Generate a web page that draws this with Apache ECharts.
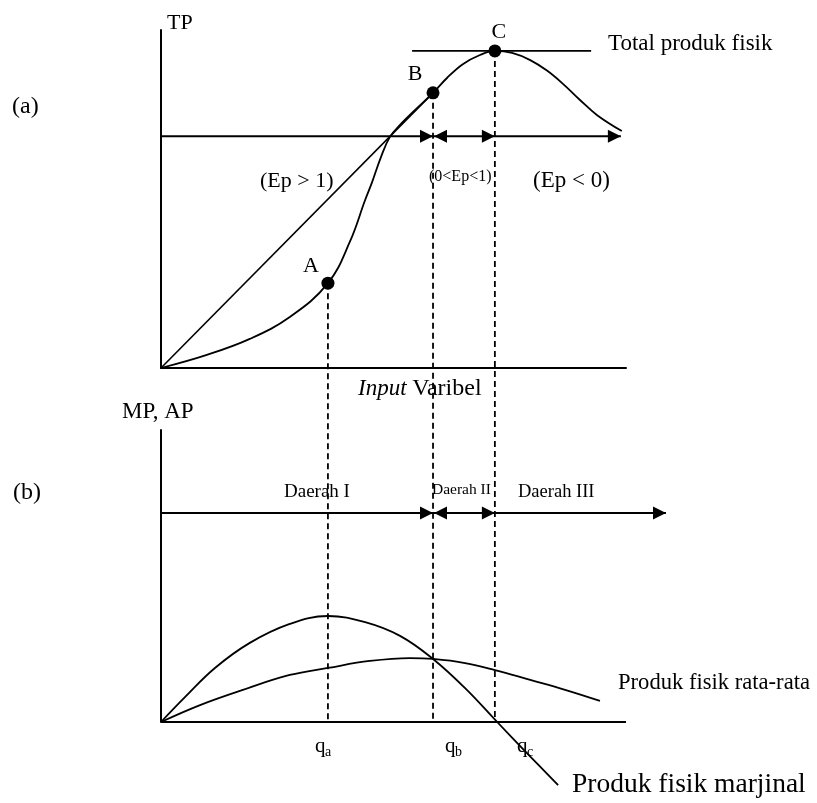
<!DOCTYPE html>
<html><head><meta charset="utf-8">
<script src="https://cdn.jsdelivr.net/npm/echarts@6/dist/echarts.min.js"></script>
<style>html,body{margin:0;padding:0;background:#fff}#c{width:817px;height:803px}</style>
</head><body><div id="c"></div>
<script>
// ---------------- data (arbitrary units 0..100) ----------------
const qNames = ['a', 'b', 'c'];
const qValues = [35.9, 58.5, 71.8];          // q_a, q_b, q_c on the input axis
const pointNames = ['A', 'B', 'C'];
const pointTP = [25.1, 81.4, 93.8];          // TP at q_a, q_b, q_c
const tpCurve = [[0,0],[9.7,3.8],[19.1,8.6],[27.7,15.1],[35.9,25.1],[40.6,37.3],[43.9,49.7],
  [45.4,55.0],[47.3,62.4],[49.2,68.3],[51.6,72.2],[54.6,76.3],[58.5,81.4],[61.5,85.8],
  [64.9,89.9],[68.6,92.6],[71.8,93.8],[75.5,93.2],[79.4,91.1],[83.0,88.0],[86.5,84.0],
  [90.1,79.3],[93.8,74.8],[99.1,70.1]];
const rayLine = [[0,0],[58.5,81.4]];
const tangentLine = [[54.0,93.8],[92.5,93.8]];
const elasticityLevel = 68.6, elasticityEnd = 98.9;
const mpCurve = [[0,0],[5.2,8.6],[11.6,18.5],[19.1,27.1],[27.7,33.6],[35.9,36.3],[43.9,34.2],
  [51.4,29.5],[58.5,21.6],[65.4,11.6],[72.3,0],[78.9,-11.0],[85.4,-21.6]];
const apCurve = [[0,0],[8.4,5.8],[17.6,11.0],[27.7,16.1],[35.9,18.5],[44.9,20.9],[53.5,21.9],
  [58.5,21.6],[65.4,20.2],[71.8,17.8],[79.4,14.4],[86.9,11.0],[94.4,7.2]];
const baseEnd = 100;
const regionLevel = 71.6, regionEnd = 108.6;

// ---------------- layout & style ----------------
const GA = {left:161, top:30, width:465, height:338};
const GB = {left:161, top:430, width:505, height:292};
const xMaxB = 100 * GB.width / GA.width;     // same horizontal scale in both panels
const FONT = '"Liberation Serif", "Times New Roman", serif';
const K = '#000';
const dropBottom = -((GB.top + GB.height) - (GA.top + GA.height)) / GA.height * 100;
const RIGHT = 'path://M0,0L13,6.5L0,13Z';
const LEFT = 'path://M13,0L0,6.5L13,13Z';
const labelOffsets = [[-17,-17],[-18,-19],[4,-19]];

function axis(i, max, showLine) {
  return {gridIndex:i, type:'value', min:0, max,
    axisLine:{show:showLine, onZero:false, lineStyle:{color:K, width:2}},
    axisTick:{show:false}, axisLabel:{show:false}, splitLine:{show:false}};
}
function line(data, gi, w, extra) {
  return Object.assign({type:'line', xAxisIndex:gi, yAxisIndex:gi, data, symbol:'none', clip:false,
    silent:true, lineStyle:{color:K, width:w}}, extra || {});
}
function arrows(gi, level, end) {
  return [
    {type:'scatter', xAxisIndex:gi, yAxisIndex:gi, silent:true, clip:false,
     symbol:RIGHT, symbolSize:[13,13], symbolOffset:[-6.5,0], itemStyle:{color:K, opacity:1},
     data:[[qValues[1], level],[qValues[2], level],[end, level]]},
    {type:'scatter', xAxisIndex:gi, yAxisIndex:gi, silent:true, clip:false,
     symbol:LEFT, symbolSize:[13,13], symbolOffset:[7.5,0], itemStyle:{color:K, opacity:1},
     data:[[qValues[1], level]]}
  ];
}

const series = [];
// panel (a)
series.push(line(tpCurve, 0, 1.8, {smooth:0.4}));
series.push(line(rayLine, 0, 1.6));
series.push(line(tangentLine, 0, 1.7));
series.push(line([[0, elasticityLevel],[elasticityEnd, elasticityLevel]], 0, 2));
qValues.forEach((q, i) => {
  series.push(line([[q, pointTP[i]],[q, dropBottom]], 0, 1.8, {lineStyle:{color:K, width:1.8, type:[6,4]}}));
});
series.push(...arrows(0, elasticityLevel, elasticityEnd));
series.push({type:'scatter', xAxisIndex:0, yAxisIndex:0, silent:true, symbolSize:13,
  itemStyle:{color:K, opacity:1},
  data: pointNames.map((n, i) => ({name:n, value:[qValues[i], pointTP[i]],
    label:{show:true, position:'inside', offset:labelOffsets[i], formatter:n, color:K, opacity:1,
      textBorderWidth:0, fontFamily:FONT, fontSize:22}}))});
// panel (b)
series.push(line([[0,0],[baseEnd,0]], 1, 2));
series.push(line(mpCurve, 1, 1.8, {smooth:0.4}));
series.push(line(apCurve, 1, 1.8, {smooth:0.4}));
series.push(line([[0, regionLevel],[regionEnd, regionLevel]], 1, 2));
series.push(...arrows(1, regionLevel, regionEnd));

function txt(text, x, y, size, extra) {
  return {type:'text', x, y, silent:true,
    style:Object.assign({text, fill:K, font:size + 'px ' + FONT,
      align:'left', verticalAlign:'middle', textAlign:'left', textVerticalAlign:'middle'}, extra || {})};
}
const qLabelX = [315, 445, 517];
const graphics = [
  txt('TP', 167, 23, 22),
  txt('(a)', 12, 107, 24),
  txt('Total produk fisik', 608, 44, 23),
  txt('(Ep > 1)', 260, 181, 22),
  txt('(0<Ep<1)', 429, 177, 16),
  txt('(Ep < 0)', 533, 181, 23),
  {type:'text', x:358, y:389, silent:true, style:{text:'{i|Input} {n|Varibel}', fill:K,
    font:'23px ' + FONT, align:'left', verticalAlign:'middle', textAlign:'left', textVerticalAlign:'middle',
    rich:{i:{fontStyle:'italic', fontFamily:FONT, fontSize:23, fill:K, color:K},
          n:{fontFamily:FONT, fontSize:24, fill:K, color:K}}}},
  txt('MP, AP', 122, 412, 23),
  txt('(b)', 13, 493, 24),
  txt('Daerah I', 284, 492, 19),
  txt('Daerah II', 432, 490, 15.5),
  txt('Daerah III', 518, 492, 18.5),
  txt('Produk fisik rata-rata', 618, 683, 22.6),
  txt('Produk fisik marjinal', 572, 785, 27.5)
];
qNames.forEach((n, i) => {
  graphics.push(txt('q', qLabelX[i], 746, 21));
  graphics.push(txt(n, qLabelX[i] + 10, 752, 14));
});

const chart = echarts.init(document.getElementById('c'), null, {renderer:'canvas'});
chart.setOption({
  animation:false,
  backgroundColor:'#fff',
  grid:[Object.assign({containLabel:false}, GA), Object.assign({containLabel:false}, GB)],
  xAxis:[axis(0, 100, true), axis(1, xMaxB, false)],
  yAxis:[axis(0, 100, true), axis(1, 100, true)],
  series,
  graphic:graphics
});
</script></body></html>
